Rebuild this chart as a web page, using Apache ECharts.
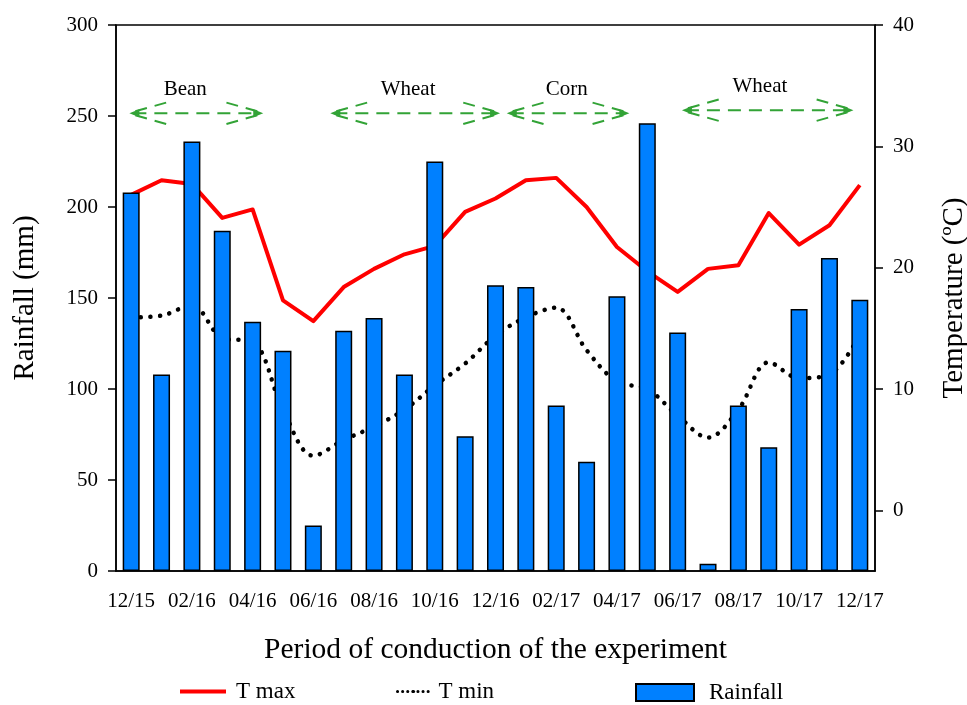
<!DOCTYPE html>
<html>
<head>
<meta charset="utf-8">
<script src="https://cdn.jsdelivr.net/npm/echarts@6/dist/echarts.min.js"></script>
<style>
  html, body { margin: 0; padding: 0; background: #fff; }
  #chart { width: 967px; height: 705px; }
</style>
</head>
<body>
<div id="chart"></div>
<script>
// Monthly climate record over the experiment period
const months = ['12/15','01/16','02/16','03/16','04/16','05/16','06/16','07/16','08/16','09/16','10/16','11/16','12/16',
                '01/17','02/17','03/17','04/17','05/17','06/17','07/17','08/17','09/17','10/17','11/17','12/17'];
const rainfall = [208, 108, 236, 187, 137, 121, 25, 132, 139, 108, 225, 74, 157,
                  156, 91, 60, 151, 246, 131, 4, 91, 68, 144, 172, 149];
const tMax = [26.0, 27.2, 26.9, 24.1, 24.8, 17.3, 15.6, 18.4, 19.9, 21.1, 21.8, 24.6, 25.7,
              27.2, 27.4, 25.0, 21.7, 19.7, 18.0, 19.9, 20.2, 24.5, 21.9, 23.5, 26.8];
const tMin = [15.9, 16.05, 16.9, 14.2, 13.9, 8.3, 4.5, 5.8, 6.9, 8.3, 10.3, 12.1, 14.4,
              15.9, 16.7, 13.2, 10.6, 10.0, 7.8, 6.0, 8.3, 12.2, 10.9, 11.2, 14.5];
const tempTicks = [0, 10, 20, 30, 40];

// Crop seasons (positions in month index units, level in mm on the rainfall axis)
const crops = ['Bean', 'Wheat', 'Corn', 'Wheat'];
const cropStart = [-0.06, 6.56, 12.37, 18.14];
const cropEnd = [4.35, 12.15, 16.41, 23.79];
const cropLevel = [251.5, 251.5, 251.5, 253.2];
const cropLabelAt = [1.78, 9.12, 14.35, 20.71];
const cropLabelLevel = [264.5, 264.5, 264.5, 266.2];

const FONT = '"Liberation Serif", "Times New Roman", serif';
const GREEN = '#32a336';

const cropData = crops.map((c, i) => [cropStart[i], cropEnd[i], cropLevel[i], cropLabelAt[i], cropLabelLevel[i]]);

function renderCrop(params, api) {
  const p0 = api.coord([api.value(0), api.value(2)]);
  const p1 = api.coord([api.value(1), api.value(2)]);
  const lp = api.coord([api.value(3), api.value(4)]);
  const name = crops[params.dataIndex];
  const children = [
    { type: 'line', shape: { x1: p0[0] + 4, y1: p0[1], x2: p1[0] - 4, y2: p1[1] },
      style: { stroke: GREEN, lineWidth: 2, lineDash: [13, 8] } }
  ];
  const barbL = 38, barbH = 11;
  [[p0, 1], [p1, -1]].forEach(([p, dir]) => {
    [-1, 1].forEach(s => {
      children.push({ type: 'line',
        shape: { x1: p[0] + dir * 6, y1: p[1] + s * 2, x2: p[0] + dir * barbL, y2: p[1] + s * barbH },
        style: { stroke: GREEN, lineWidth: 2, lineDash: [12, 8] } });
    });
    children.push({ type: 'polygon',
      shape: { points: [[p[0], p[1]], [p[0] + dir * 10, p[1] - 4], [p[0] + dir * 10, p[1] + 4]] },
      style: { fill: GREEN } });
  });
  children.push({ type: 'text', x: lp[0], y: lp[1],
    style: { text: name, fill: '#000', font: '21px ' + FONT, align: 'center', verticalAlign: 'middle' } });
  return { type: 'group', children };
}

const legendText = { fontFamily: FONT, fontSize: 23, color: '#000' };

const chart = echarts.init(document.getElementById('chart'));
chart.setOption({
  animation: false,
  backgroundColor: '#fff',
  grid: { left: 116, right: 92, top: 25, bottom: 134, outerBoundsMode: 'none', containLabel: false,
          show: true, borderColor: '#000', borderWidth: 1.5 },
  legend: [
    { left: 180, top: 680, padding: 0, itemWidth: 46, itemHeight: 4, itemGap: 0,
      data: [{ name: 'T max', icon: 'rect', itemStyle: { color: '#ff0000' } }],
      textStyle: Object.assign({ padding: [0, 0, 0, 5] }, legendText) },
    { left: 396, top: 680, padding: 0, itemWidth: 32, itemHeight: 4, itemGap: 0,
      data: [{ name: 'T min', lineStyle: { type: [0.1, 5], width: 3, cap: 'round' } }],
      textStyle: Object.assign({ padding: [0, 0, 0, 4] }, legendText) },
    { left: 635, top: 681, padding: 0, itemWidth: 58, itemHeight: 17, itemGap: 0,
      data: [{ name: 'Rainfall', icon: 'rect' }],
      textStyle: Object.assign({ padding: [0, 0, 0, 10] }, legendText) }
  ],
  xAxis: [
    {
      type: 'category', data: months, boundaryGap: true,
      name: 'Period of conduction of the experiment', nameLocation: 'middle', nameGap: 64,
      nameTextStyle: { fontFamily: FONT, fontSize: 29.5, color: '#000' },
      axisLine: { onZero: false, lineStyle: { color: '#000', width: 1.5 } },
      axisTick: { interval: 0, alignWithLabel: true, length: 8, lineStyle: { color: '#000', width: 1.5 } },
      axisLabel: { interval: 1, margin: 20, fontFamily: FONT, fontSize: 21, color: '#000' },
      splitLine: { show: false }
    },
    { type: 'value', min: -0.5, max: 24.5, show: false }
  ],
  yAxis: [
    {
      type: 'value', min: 0, max: 300, interval: 50,
      name: 'Rainfall (mm)', nameLocation: 'middle', nameGap: 76, nameRotate: 90,
      nameTextStyle: { fontFamily: FONT, fontSize: 29, color: '#000' },
      axisLine: { show: true, onZero: false, lineStyle: { color: '#000', width: 1.5 } },
      axisTick: { show: true, length: 8, lineStyle: { color: '#000', width: 1.5 } },
      axisLabel: { margin: 18, fontFamily: FONT, fontSize: 21, color: '#000' },
      splitLine: { show: false }
    },
    {
      type: 'value', min: -5, max: 40, position: 'right',
      name: 'Temperature (ºC)', nameLocation: 'middle', nameGap: 65, nameRotate: 90,
      nameTextStyle: { fontFamily: FONT, fontSize: 29, color: '#000' },
      axisLine: { show: true, onZero: false, lineStyle: { color: '#000', width: 1.5 } },
      axisTick: { show: true, length: 8, customValues: tempTicks, lineStyle: { color: '#000', width: 1.5 } },
      axisLabel: { margin: 18, customValues: tempTicks, fontFamily: FONT, fontSize: 21, color: '#000' },
      splitLine: { show: false }
    }
  ],
  series: [
    {
      name: 'T max', type: 'line', data: tMax, yAxisIndex: 1, z: 2,
      showSymbol: false, symbol: 'none',
      lineStyle: { color: '#ff0000', width: 4, join: 'round' },
      itemStyle: { color: '#ff0000' }
    },
    {
      name: 'T min', type: 'line', data: tMin, yAxisIndex: 1, z: 2, smooth: 0.35,
      showSymbol: false, symbol: 'none',
      lineStyle: { color: '#000', width: 4.5, type: [0.1, 9.5], cap: 'round' },
      itemStyle: { color: '#000' }
    },
    {
      name: 'Rainfall', type: 'bar', data: rainfall, z: 3, barWidth: 17,
      itemStyle: { color: '#0080ff', borderColor: '#000', borderWidth: 1.5 }
    },
    {
      name: 'crops', type: 'custom', xAxisIndex: 1, yAxisIndex: 0, z: 4,
      renderItem: renderCrop, data: cropData, silent: true
    }
  ]
});
</script>
</body>
</html>
